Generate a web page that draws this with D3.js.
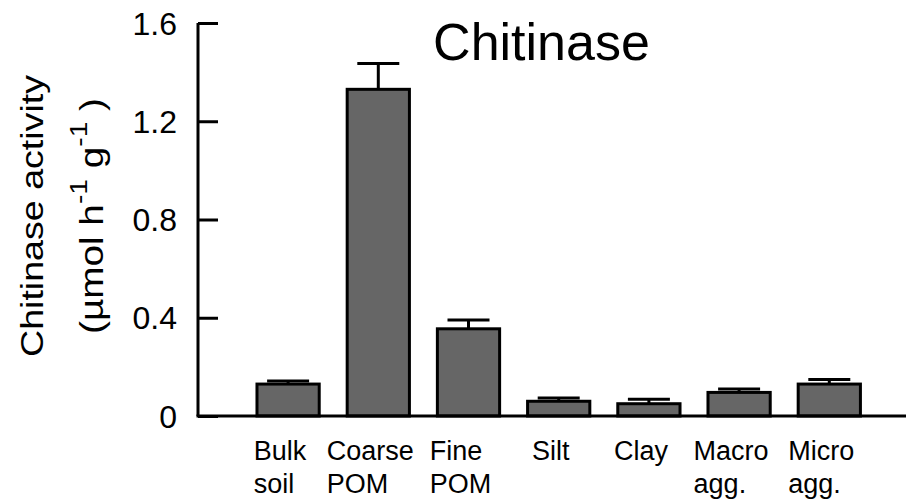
<!DOCTYPE html>
<html>
<head>
<meta charset="utf-8">
<script src="https://cdn.jsdelivr.net/npm/d3@7"></script>
<style>
  html, body { margin: 0; padding: 0; background: #fff; }
  svg { display: block; font-family: "Liberation Sans", Arial, Helvetica, sans-serif; }
</style>
</head>
<body>
<svg id="chart" width="908" height="503"></svg>
<script>
const categories = ["Bulk soil", "Coarse POM", "Fine POM", "Silt", "Clay", "Macro agg.", "Micro agg."];
const labelLines = [["Bulk", "soil"], ["Coarse", "POM"], ["Fine", "POM"], ["Silt"], ["Clay"], ["Macro", "agg."], ["Micro", "agg."]];
const means = [0.13, 1.33, 0.355, 0.06, 0.05, 0.096, 0.13];
const errors = [0.013, 0.105, 0.036, 0.013, 0.018, 0.014, 0.019];
const yTicks = [0, 0.4, 0.8, 1.2, 1.6];
const yTickLabels = ["0", "0.4", "0.8", "1.2", "1.6"];
const title = "Chitinase";

const svg = d3.select("#chart");
const axisX = 198, baseY = 416, topY = 23;

const y = d3.scaleLinear().domain([0, 1.6]).range([baseY, topY]);
const x = d3.scaleBand().domain(categories).range([243, 874.4]).paddingInner(0.31).paddingOuter(0.155);

// bars
svg.append("g").selectAll("rect").data(categories).join("rect")
  .attr("x", d => x(d))
  .attr("y", (d, i) => y(means[i]))
  .attr("width", x.bandwidth())
  .attr("height", (d, i) => baseY - y(means[i]))
  .attr("fill", "#666666")
  .attr("stroke", "#000")
  .attr("stroke-width", 3);

// error bars
const eg = svg.append("g").attr("stroke", "#000").attr("stroke-width", 3);
categories.forEach((c, i) => {
  const cx = x(c) + x.bandwidth() / 2;
  eg.append("line").attr("x1", cx).attr("x2", cx)
    .attr("y1", y(means[i])).attr("y2", y(means[i] + errors[i]));
  eg.append("line").attr("x1", cx - 21).attr("x2", cx + 21)
    .attr("y1", y(means[i] + errors[i])).attr("y2", y(means[i] + errors[i]));
});

// y axis
const yAxis = d3.axisRight(y).tickValues(yTicks).tickSize(20).tickFormat("");
const yg = svg.append("g").attr("transform", `translate(${axisX},0)`).call(yAxis);
yg.select(".domain").attr("d", `M0,${topY}V${baseY}`).attr("stroke", "#000").attr("stroke-width", 3);
yg.selectAll(".tick line").attr("stroke", "#000").attr("stroke-width", 3);

// tick labels
svg.append("g").selectAll("text").data(yTicks).join("text")
  .attr("x", 177)
  .attr("y", d => y(d))
  .attr("dy", "0.36em")
  .attr("text-anchor", "end")
  .attr("font-size", 32)
  .attr("fill", "#000")
  .text((d, i) => yTickLabels[i]);

// x axis baseline
svg.append("line").attr("x1", axisX - 1.5).attr("x2", 906).attr("y1", baseY).attr("y2", baseY)
  .attr("stroke", "#000").attr("stroke-width", 3);

// x labels
const xl = svg.append("g").attr("font-size", 27).attr("fill", "#000");
categories.forEach((c, i) => {
  const cx = x(c) + x.bandwidth() / 2 - 8;
  const t = xl.append("text");
  const spans = labelLines[i].map((ln, j) =>
    t.append("tspan").attr("x", 0).attr("y", 460 + j * 33).text(ln));
  const w = d3.max(spans, s => s.node().getComputedTextLength());
  spans.forEach(s => s.attr("x", cx - w / 2));
});

// title
svg.append("text").attr("x", 541.5).attr("y", 60).attr("text-anchor", "middle")
  .attr("font-size", 52).attr("fill", "#000").text(title);

// y label
const yl = svg.append("g").attr("transform", "translate(0,216) rotate(-90)").attr("fill", "#000").attr("font-size", 32);
yl.append("text").attr("x", 0).attr("y", 43).attr("text-anchor", "middle")
  .attr("textLength", 282).attr("lengthAdjust", "spacingAndGlyphs")
  .text("Chitinase activity");
const l2 = yl.append("text").attr("x", 0).attr("y", 103).attr("text-anchor", "middle")
  .attr("font-size", 33).attr("textLength", 236).attr("lengthAdjust", "spacingAndGlyphs");
l2.append("tspan").text("(\u00B5mol h");
l2.append("tspan").attr("font-size", 24).attr("dy", -16).text("-1");
l2.append("tspan").attr("dy", 16).text("  g");
l2.append("tspan").attr("font-size", 24).attr("dy", -16).text("-1");
l2.append("tspan").attr("dy", 16).text(" )");
</script>
</body>
</html>
